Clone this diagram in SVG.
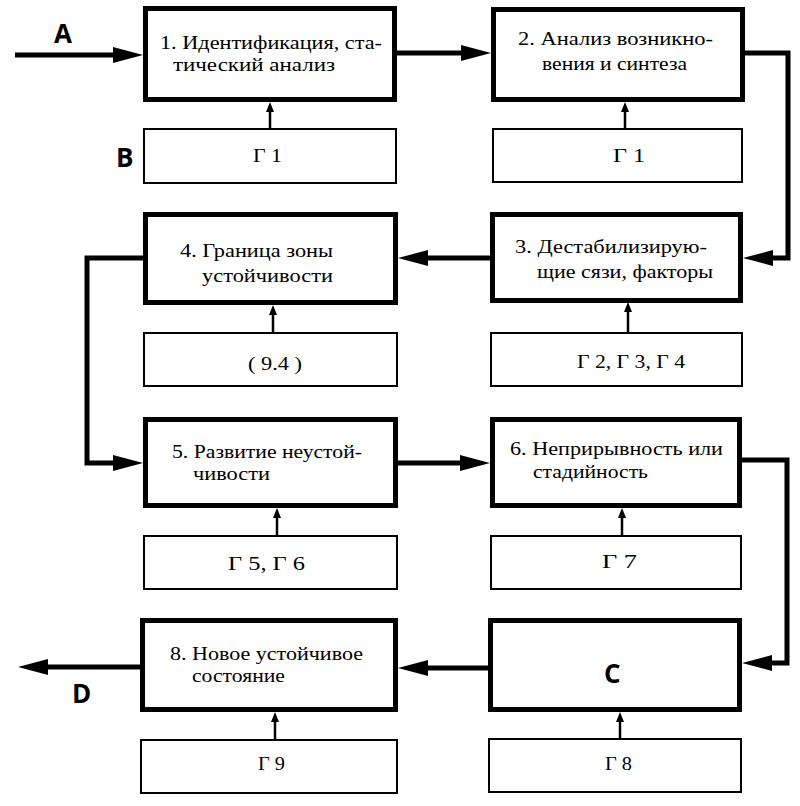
<svg xmlns="http://www.w3.org/2000/svg" width="800" height="806" viewBox="0 0 800 806">
<defs>
<style>
.thick{fill:#fff;stroke:#000;stroke-width:5}
.thin{fill:#fff;stroke:#000;stroke-width:2}
.t{font-family:"Liberation Serif","DejaVu Serif","Times New Roman",serif;font-size:19px;fill:#000}
.lbl{font-family:"Open Sans","Noto Sans",sans-serif;font-weight:bold;font-size:26px;fill:#000}
.big{fill:none;stroke:#000;stroke-width:5;marker-end:url(#ah)}
.sm{fill:none;stroke:#000;stroke-width:2.5;marker-end:url(#as)}
</style>
<marker id="ah" viewBox="0 0 30 16" refX="10" refY="8" markerWidth="30" markerHeight="16" markerUnits="userSpaceOnUse" orient="auto">
<path d="M0,0 L30,8 L0,16 z" fill="#000"/>
</marker>
<marker id="as" viewBox="0 0 10 8" refX="4" refY="4" markerWidth="10" markerHeight="8" markerUnits="userSpaceOnUse" orient="auto">
<path d="M0,0 L10,4 L0,8 z" fill="#000"/>
</marker>
</defs>
<rect width="800" height="806" fill="#fff"/>

<g id="connectors">
<path class="big" d="M15,55 H123"/>
<path class="big" d="M397,53 H471"/>
<path class="big" d="M745,53 H788 V258 H763"/>
<path class="big" d="M490,258 H418"/>
<path class="big" d="M143,258 H87 V463 H123"/>
<path class="big" d="M398,463 H470"/>
<path class="big" d="M742,460 H787 V663 H762"/>
<path class="big" d="M488,668 H418"/>
<path class="big" d="M140,667 H38"/>
<path class="sm" d="M270,128 V108"/>
<path class="sm" d="M625,128 V108"/>
<path class="sm" d="M628,332 V308"/>
<path class="sm" d="M273,332 V311"/>
<path class="sm" d="M277,535 V514"/>
<path class="sm" d="M622,535 V514"/>
<path class="sm" d="M620,738 V718"/>
<path class="sm" d="M275,739 V718"/>
</g>

<g id="n1">
<rect class="thick" x="145.5" y="8.5" width="249" height="91"/>
<text class="t" x="160" y="49" textLength="222" lengthAdjust="spacingAndGlyphs">1. Идентификация, ста-</text>
<text class="t" x="173" y="71" textLength="162" lengthAdjust="spacingAndGlyphs">тический анализ</text>
</g>
<g id="g1a">
<rect class="thin" x="144" y="129" width="252" height="54"/>
<text class="t" x="253" y="162" textLength="29" lengthAdjust="spacingAndGlyphs">Г 1</text>
</g>

<g id="n2">
<rect class="thick" x="493.5" y="9.5" width="249" height="90"/>
<text class="t" x="518" y="45" textLength="195" lengthAdjust="spacingAndGlyphs">2. Анализ возникно-</text>
<text class="t" x="542" y="70" textLength="145" lengthAdjust="spacingAndGlyphs">вения и синтеза</text>
</g>
<g id="g1b">
<rect class="thin" x="493" y="129" width="249" height="53"/>
<text class="t" x="613" y="162" textLength="32" lengthAdjust="spacingAndGlyphs">Г 1</text>
</g>

<g id="n3">
<rect class="thick" x="492.5" y="214.5" width="248" height="86"/>
<text class="t" x="515" y="253" textLength="192" lengthAdjust="spacingAndGlyphs">3. Дестабилизирую-</text>
<text class="t" x="537" y="278" textLength="176" lengthAdjust="spacingAndGlyphs">щие сязи, факторы</text>
</g>
<g id="g234">
<rect class="thin" x="491" y="333" width="251" height="53"/>
<text class="t" x="577" y="368" textLength="108" lengthAdjust="spacingAndGlyphs">Г 2, Г 3, Г 4</text>
</g>

<g id="n4">
<rect class="thick" x="145.5" y="214.5" width="250" height="88"/>
<text class="t" x="180" y="257" textLength="153" lengthAdjust="spacingAndGlyphs">4. Граница зоны</text>
<text class="t" x="202" y="282" textLength="131" lengthAdjust="spacingAndGlyphs">устойчивости</text>
</g>
<g id="g94">
<rect class="thin" x="144" y="333" width="253" height="53"/>
<text class="t" x="248" y="370" textLength="54" lengthAdjust="spacingAndGlyphs">( 9.4 )</text>
</g>

<g id="n5">
<rect class="thick" x="145.5" y="419.5" width="250" height="86"/>
<text class="t" x="172" y="458" textLength="190" lengthAdjust="spacingAndGlyphs">5. Развитие неустой-</text>
<text class="t" x="193" y="480" textLength="77" lengthAdjust="spacingAndGlyphs">чивости</text>
</g>
<g id="g56">
<rect class="thin" x="144" y="536" width="253" height="53"/>
<text class="t" x="228" y="570" textLength="77" lengthAdjust="spacingAndGlyphs">Г 5, Г 6</text>
</g>

<g id="n6">
<rect class="thick" x="492.5" y="419.5" width="247" height="86"/>
<text class="t" x="510" y="455" textLength="213" lengthAdjust="spacingAndGlyphs">6. Неприрывность или</text>
<text class="t" x="533" y="478" textLength="115" lengthAdjust="spacingAndGlyphs">стадийность</text>
</g>
<g id="g7">
<rect class="thin" x="491" y="536" width="250" height="53"/>
<text class="t" x="602" y="568" textLength="35" lengthAdjust="spacingAndGlyphs">Г 7</text>
</g>

<g id="n7">
<rect class="thick" x="490.5" y="620.5" width="249" height="89"/>
<text class="lbl" x="604" y="683">C</text>
</g>
<g id="g8">
<rect class="thin" x="489" y="739" width="252" height="53"/>
<text class="t" x="605" y="770" textLength="27" lengthAdjust="spacingAndGlyphs">Г 8</text>
</g>

<g id="n8">
<rect class="thick" x="142.5" y="620.5" width="253" height="89"/>
<text class="t" x="170" y="660" textLength="193" lengthAdjust="spacingAndGlyphs">8. Новое устойчивое</text>
<text class="t" x="192" y="682" textLength="93" lengthAdjust="spacingAndGlyphs">состояние</text>
</g>
<g id="g9">
<rect class="thin" x="141" y="740" width="256" height="53"/>
<text class="t" x="258" y="770" textLength="27" lengthAdjust="spacingAndGlyphs">Г 9</text>
</g>

<g id="labels">
<text class="lbl" x="54" y="43">A</text>
<text class="lbl" x="116" y="167">B</text>
<text class="lbl" x="72" y="703">D</text>
</g>
</svg>
